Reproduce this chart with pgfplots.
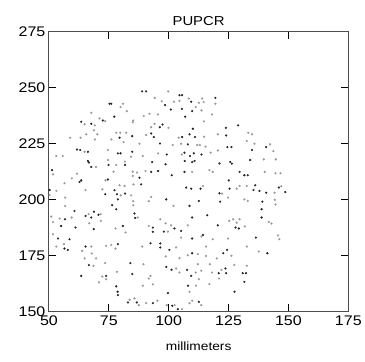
\documentclass[border=0pt]{standalone}
\usepackage{pgfplots}
\pgfplotsset{compat=1.18}
\usepackage{fontspec}
\setmainfont{Liberation Sans}[FakeStretch=1.15]
\usetikzlibrary{calc}
\begin{document}
\begin{tikzpicture}[x=1bp,y=1bp]
\begin{axis}[
  scale only axis,
  width=300bp, height=280bp,
  xmin=50, xmax=175, ymin=150, ymax=275,
  xtick={50,75,100,125,150,175},
  ytick={150,175,200,225,250,275},
  tick align=inside,
  tick pos=both,
  major tick length=7bp,
  axis line style={black!70, line width=1.1bp},
  tick style={black, line width=0.9bp},
  /pgf/number format/assume math mode=true,
  ticklabel style={font=\fontsize{14}{16}\selectfont},
  xticklabel style={yshift=-1bp},
  title={PUPCR},
  title style={font=\fontsize{13}{15}\selectfont, yshift=-3bp},
  xlabel={millimeters},
  xlabel style={font=\fontsize{12}{14}\selectfont, yshift=-9bp},
  clip=false,
]
\addplot[only marks, mark=*, mark size=0.9bp, draw=black!40, fill=black!40] coordinates {
(99.8,248.4)(94.2,245.5)(108.4,245.2)(114.0,245.2)(114.6,243.6)(97.1,244.0)(102.2,243.8)(104.5,244.2)(112.6,243.3)(119.5,242.9)(80.9,242.9)(79.9,241.4)(111.3,241.4)(113.7,239.9)(82.5,239.6)(67.7,238.8)(118.1,238.1)(92.0,238.4)(95.5,238.1)(89.6,237.4)(85.2,235.4)(71.1,236.3)(64.9,233.7)(69.2,233.2)(73.5,235.1)(85.0,234.6)(94.1,233.9)(92.7,232.4)(99.9,232.1)(114.7,235.0)(68.8,231.0)(70.2,229.2)(65.6,229.2)(78.1,229.9)(79.8,229.9)(82.3,229.9)(90.6,228.9)(104.2,227.7)(114.8,228.1)(120.5,229.2)(133.2,229.9)(134.8,229.2)(58.9,227.7)(63.2,227.7)(69.2,226.9)(76.1,226.9)(81.2,225.7)(87.8,225.0)(101.7,224.4)(105.2,225.0)(111.9,224.4)(113.0,224.4)(115.4,223.7)(132.6,226.2)(135.8,225.0)(142.3,224.7)(64.9,221.4)(53.1,219.5)(55.8,219.5)(74.6,222.2)(84.3,219.2)(95.6,220.7)(89.2,219.5)(105.5,220.2)(117.5,221.0)(120.5,222.0)(143.7,221.7)(139.7,218.0)(144.7,218.0)(74.7,217.7)(81.7,217.0)(78.1,215.5)(69.7,214.6)(140.1,212.4)(144.6,211.8)(146.7,211.8)(51.7,211.3)(61.7,211.6)(77.0,212.5)(85.0,212.5)(86.8,212.1)(90.3,212.8)(109.8,212.4)(117.0,213.2)(118.4,212.4)(85.0,210.6)(56.5,207.3)(59.6,209.5)(73.6,208.6)(79.5,206.4)(81.6,206.1)(85.3,206.8)(114.3,206.1)(128.4,204.9)(129.6,206.1)(132.6,206.1)(144.2,203.1)(147.0,206.0)(53.1,203.9)(50.3,202.0)(56.8,200.9)(65.3,204.3)(72.3,204.6)(80.0,201.9)(84.3,201.9)(85.2,199.3)(92.7,201.2)(91.7,199.3)(122.3,202.7)(124.8,200.9)(131.6,200.1)(133.0,199.4)(144.3,199.9)(144.6,197.8)(85.2,197.5)(102.0,197.2)(56.8,197.2)(66.6,193.5)(71.6,193.5)(51.0,192.4)(54.5,191.5)(59.5,192.0)(51.7,190.0)(66.8,189.4)(71.7,190.5)(87.1,192.0)(91.7,188.2)(96.5,191.2)(98.7,189.4)(101.0,188.5)(108.0,188.5)(125.3,190.5)(126.9,191.2)(128.4,189.7)(129.6,191.2)(131.8,188.0)(141.8,190.0)(142.9,189.3)(77.8,187.1)(82.0,185.3)(99.7,185.7)(105.2,183.0)(113.7,183.5)(118.4,182.3)(124.8,182.6)(146.2,182.3)(145.6,184.0)(51.7,184.5)(56.3,180.1)(103.1,178.6)(98.8,174.6)(104.5,173.8)(108.0,175.1)(112.2,175.6)(115.6,179.0)(115.6,174.8)(120.1,173.7)(126.2,174.9)(132.6,179.0)(137.6,176.8)(63.9,177.1)(67.7,179.0)(73.9,179.3)(76.0,179.7)(77.8,178.1)(89.0,179.0)(67.9,175.9)(64.9,173.7)(69.7,173.7)(73.5,171.6)(68.6,170.4)(70.9,163.0)(72.3,165.6)(73.9,164.4)(78.4,167.7)(89.5,171.1)(91.7,164.7)(92.4,165.9)(89.2,161.5)(93.4,162.1)(103.1,169.2)(104.5,167.4)(111.3,167.4)(112.2,171.1)(113.6,168.2)(112.6,164.4)(111.4,161.5)(108.7,158.8)(117.0,162.2)(118.1,167.4)(122.0,168.6)(117.2,171.1)(127.4,170.8)(132.6,170.4)(121.0,164.7)(85.7,155.8)(83.7,155.2)(87.5,152.8)(90.6,153.7)(95.3,154.8)(99.2,152.8)(102.5,152.8)(105.6,151.0)(108.7,153.7)(109.8,154.8)(113.6,152.8)(53.1,179.0)
};
\addplot[only marks, mark=*, mark size=0.9bp, draw=black!85, fill=black!85] coordinates {
(88.9,248.4)(90.6,248.4)(104.5,246.7)(105.6,246.7)(119.5,245.5)(98.5,242.3)(109.4,243.8)(75.3,242.9)(76.0,242.9)(100.9,240.3)(105.5,240.6)(109.8,239.6)(77.3,237.1)(106.9,237.1)(72.5,235.4)(63.5,234.8)(67.7,233.9)(97.4,233.6)(96.3,232.4)(110.1,231.7)(123.9,232.1)(129.0,233.2)(84.8,228.4)(92.7,229.6)(93.8,228.0)(105.6,228.0)(108.7,229.2)(111.0,228.0)(124.0,228.7)(79.5,227.7)(96.4,225.1)(108.0,224.7)(124.5,223.5)(126.2,223.5)(134.8,222.2)(140.7,223.5)(63.1,222.2)(61.7,222.4)(66.3,221.4)(78.8,220.7)(79.9,220.7)(84.8,221.4)(99.2,220.2)(106.6,221.0)(108.9,219.5)(110.5,220.7)(113.7,220.2)(66.3,217.3)(66.7,216.6)(74.9,215.5)(81.8,215.5)(93.1,216.8)(67.7,214.6)(98.7,215.8)(106.7,217.3)(109.8,216.8)(110.8,217.3)(121.2,216.2)(125.7,216.8)(126.4,216.1)(134.0,217.7)(51.3,213.2)(92.7,212.4)(95.6,212.8)(101.3,210.9)(106.6,212.4)(129.6,212.4)(131.6,210.9)(133.0,210.9)(87.8,209.8)(63.5,208.6)(62.8,207.9)(74.6,209.0)(88.5,206.8)(107.3,205.4)(109.4,204.9)(113.3,204.9)(125.1,208.6)(125.4,204.9)(136.1,206.4)(135.4,204.3)(137.9,203.9)(140.7,203.1)(146.0,205.4)(148.7,203.4)(50.3,204.3)(73.5,202.4)(77.4,204.2)(78.4,202.4)(81.8,202.7)(78.8,200.1)(99.0,200.1)(112.6,199.4)(121.2,202.8)(121.5,199.1)(139.1,199.1)(138.8,195.7)(76.4,197.5)(78.1,195.7)(108.7,197.2)(60.7,194.9)(68.8,194.6)(67.7,192.0)(70.7,193.2)(65.3,192.7)(56.7,191.2)(55.1,188.2)(61.1,187.5)(68.7,186.8)(85.7,193.8)(86.0,191.8)(93.4,187.5)(102.4,187.1)(105.2,186.0)(109.8,192.0)(116.1,193.0)(120.5,188.5)(127.9,187.5)(129.3,187.1)(138.8,192.0)(80.9,188.2)(93.4,185.6)(98.0,185.7)(109.8,182.6)(114.3,184.2)(136.4,183.0)(53.8,182.6)(58.6,182.3)(92.4,180.5)(96.5,180.4)(96.5,178.6)(100.3,177.5)(109.8,176.0)(122.8,176.0)(124.4,177.5)(141.2,176.0)(56.5,178.1)(57.9,177.5)(65.3,179.0)(78.8,180.1)(66.7,170.7)(63.5,165.9)(73.9,165.9)(78.1,161.2)(78.7,158.8)(78.8,157.3)(84.0,171.6)(84.8,166.7)(99.0,169.9)(101.2,168.6)(107.7,168.6)(109.4,165.9)(108.1,161.5)(120.9,167.1)(124.0,167.1)(123.7,169.2)(130.9,167.1)(132.3,167.1)(131.6,163.2)(127.5,158.8)(99.7,158.2)(86.7,154.0)(93.4,153.7)(101.5,152.5)(103.8,151.0)(112.6,154.3)(83.0,154.0)
};
\end{axis}
\path ($(current axis.south west)+(-49bp,-50bp)$) rectangle ($(current axis.north east)+(16bp,32bp)$);
\end{tikzpicture}
\end{document}
